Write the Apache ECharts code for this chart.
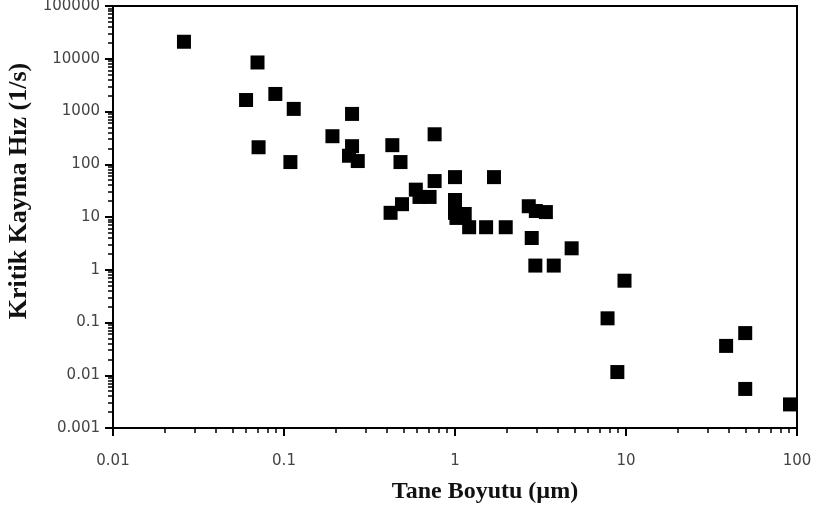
<!DOCTYPE html>
<html>
<head>
<meta charset="utf-8">
<script src="https://cdn.jsdelivr.net/npm/echarts@6/dist/echarts.min.js"></script>
<style>html,body{margin:0;padding:0;background:#fff;}#c{width:819px;height:511px;}</style>
</head>
<body>
<div id="c"></div>
<script>
const grainSize = [0.026, 0.070, 0.060, 0.089, 0.114, 0.071, 0.109, 0.192, 0.25, 0.25, 0.24, 0.27, 0.43, 0.48, 0.76, 0.42, 0.49, 0.59, 0.62, 0.71, 0.76, 1.0, 1.69, 1.0, 1.0, 1.02, 1.14, 1.21, 1.52, 1.98, 2.7, 2.97, 3.4, 2.81, 4.81, 2.95, 3.78, 9.8, 7.8, 8.9, 38.5, 49.8, 49.8, 91];
const shearRate = [21000, 8500, 1650, 2150, 1120, 210, 110, 340, 900, 220, 145, 115, 230, 110, 370, 12, 17.5, 33, 24, 24, 48, 57, 57, 21, 12, 9.6, 11.4, 6.4, 6.4, 6.4, 16, 13, 12.4, 4.0, 2.55, 1.2, 1.2, 0.62, 0.12, 0.0115, 0.036, 0.063, 0.0055, 0.0028];
const xTickLabels = [0.01, 0.1, 1, 10, 100];
const yTickLabels = [0.001, 0.01, 0.1, 1, 10, 100, 1000, 10000, 100000];

function minorVals(decades) {
  const out = [];
  for (let i = 0; i < decades.length - 1; i++) {
    for (let k = 2; k <= 9; k++) out.push(Number((decades[i] * k).toPrecision(3)));
  }
  return out;
}
const fmt = v => String(Number(Number(v).toPrecision(3)));
const labelStyle = {fontFamily: 'DejaVu Sans', fontSize: 15, color: '#444'};
const titleStyle = {fontFamily: 'Liberation Serif', fontWeight: 'bold', fontSize: 24, color: '#111'};

const chart = echarts.init(document.getElementById('c'), null, {renderer: 'canvas'});
chart.setOption({
  backgroundColor: '#fff',
  animation: false,
  grid: {left: 113, right: 22, top: 6, bottom: 83, containLabel: false, outerBoundsMode: 'none',
         show: true, borderColor: '#000', borderWidth: 2, backgroundColor: 'transparent'},
  xAxis: [
    {type: 'log', logBase: 10, min: 0.01, max: 100, position: 'bottom',
     name: 'Tane Boyutu (µm)', nameLocation: 'middle', nameGap: 52,
     nameTextStyle: {...titleStyle, padding: [0, 0, 0, 60]},
     axisLine: {lineStyle: {color: '#000', width: 2}},
     axisTick: {show: true, inside: false, length: 8, lineStyle: {color: '#000', width: 2}, customValues: xTickLabels},
     axisLabel: {...labelStyle, margin: 26, formatter: fmt, customValues: xTickLabels},
     splitLine: {show: false}},
    {type: 'log', logBase: 10, min: 0.01, max: 100, position: 'bottom',
     axisLine: {show: false},
     axisTick: {show: true, inside: false, length: 5, lineStyle: {color: '#000', width: 1.5}, customValues: minorVals(xTickLabels)},
     axisLabel: {show: false},
     splitLine: {show: false}}
  ],
  yAxis: [
    {type: 'log', logBase: 10, min: 0.001, max: 100000, position: 'left',
     name: 'Kritik Kayma Hız (1/s)', nameLocation: 'middle', nameGap: 69,
     nameTextStyle: {...titleStyle, fontSize: 26, padding: [0, 0, 0, 52]},
     axisLine: {lineStyle: {color: '#000', width: 2}},
     axisTick: {show: true, inside: false, length: 8, lineStyle: {color: '#000', width: 2}, customValues: yTickLabels},
     axisLabel: {...labelStyle, margin: 13, formatter: fmt, customValues: yTickLabels},
     splitLine: {show: false}},
    {type: 'log', logBase: 10, min: 0.001, max: 100000, position: 'left',
     axisLine: {show: false},
     axisTick: {show: true, inside: false, length: 5, lineStyle: {color: '#000', width: 1.5}, customValues: minorVals(yTickLabels)},
     axisLabel: {show: false},
     splitLine: {show: false}}
  ],
  series: [{
    type: 'scatter',
    xAxisIndex: 0, yAxisIndex: 0,
    symbol: 'rect',
    symbolSize: 14,
    itemStyle: {color: '#000', opacity: 1, borderRadius: 1},
    data: grainSize.map((x, i) => [x, shearRate[i]])
  }]
});
</script>
</body>
</html>
